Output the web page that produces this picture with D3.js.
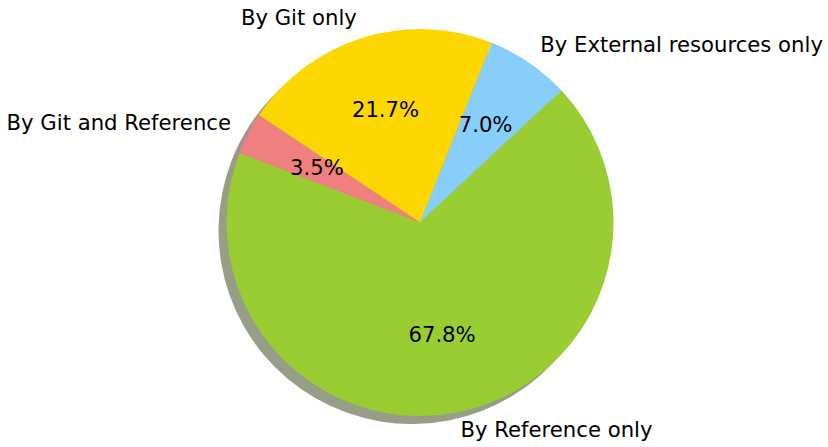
<!DOCTYPE html>
<html>
<head>
<meta charset="utf-8">
<script src="https://cdn.jsdelivr.net/npm/d3@7"></script>
<style>
  html, body { margin: 0; padding: 0; background: #fff; }
  svg { display: block; }
  text { font-family: "DejaVu Sans", sans-serif; }
</style>
</head>
<body>
<svg id="chart" width="828" height="447"></svg>
<script>
// Data (counter-clockwise order starting at the start angle)
const labels = ["By External resources only", "By Git only", "By Git and Reference", "By Reference only"];
const values = [7.0, 21.7, 3.5, 67.8];
const colors = ["#87cefa", "#ffd700", "#f08080", "#9acd32"];
const startAngleDeg = 43; // math angle, counter-clockwise from +x

const W = 828, H = 447;
const cx = 420, cy = 222.5, R = 193.5;
const shadowDx = -8, shadowDy = 8;
const fontSize = 21.2;

const svg = d3.select("#chart");
svg.append("rect").attr("width", W).attr("height", H).attr("fill", "#fff");

const toD3 = deg => (90 - deg) * Math.PI / 180;
const pie = d3.pie().sort(null).value(d => d.v)
  .startAngle(toD3(startAngleDeg))
  .endAngle(toD3(startAngleDeg + 360));

const data = labels.map((l, i) => ({ label: l, v: values[i], color: colors[i] }));
const arcs = pie(data);

const arc = d3.arc().innerRadius(0).outerRadius(R);
const labelArc = d3.arc().innerRadius(R * 1.1).outerRadius(R * 1.1);
const pctArc = d3.arc().innerRadius(R * 0.6).outerRadius(R * 0.6);

const shade = c => {
  const rgb = d3.rgb(c);
  return d3.rgb(rgb.r * 0.3, rgb.g * 0.3, rgb.b * 0.3).toString();
};

// shadows
svg.append("g").attr("transform", `translate(${cx + shadowDx},${cy + shadowDy})`)
  .selectAll("path").data(arcs).join("path")
  .attr("d", arc)
  .attr("fill", d => shade(d.data.color))
  .attr("fill-opacity", 0.5);

// wedges
const g = svg.append("g").attr("transform", `translate(${cx},${cy})`);
g.selectAll("path.w").data(arcs).join("path")
  .attr("class", "w")
  .attr("d", arc)
  .attr("fill", d => d.data.color);

// outer labels
g.selectAll("text.lab").data(arcs).join("text")
  .attr("class", "lab")
  .attr("x", d => labelArc.centroid(d)[0])
  .attr("y", d => labelArc.centroid(d)[1])
  .attr("dy", "0.26em")
  .attr("text-anchor", d => labelArc.centroid(d)[0] > 0 ? "start" : "end")
  .attr("font-size", fontSize)
  .attr("fill", "#000")
  .text(d => d.data.label);

// percentage labels
g.selectAll("text.pct").data(arcs).join("text")
  .attr("class", "pct")
  .attr("x", d => pctArc.centroid(d)[0])
  .attr("y", d => pctArc.centroid(d)[1])
  .attr("dy", "0.26em")
  .attr("text-anchor", "middle")
  .attr("font-size", fontSize)
  .attr("fill", "#000")
  .text(d => d3.format(".1f")(d.data.v) + "%");
</script>
</body>
</html>
